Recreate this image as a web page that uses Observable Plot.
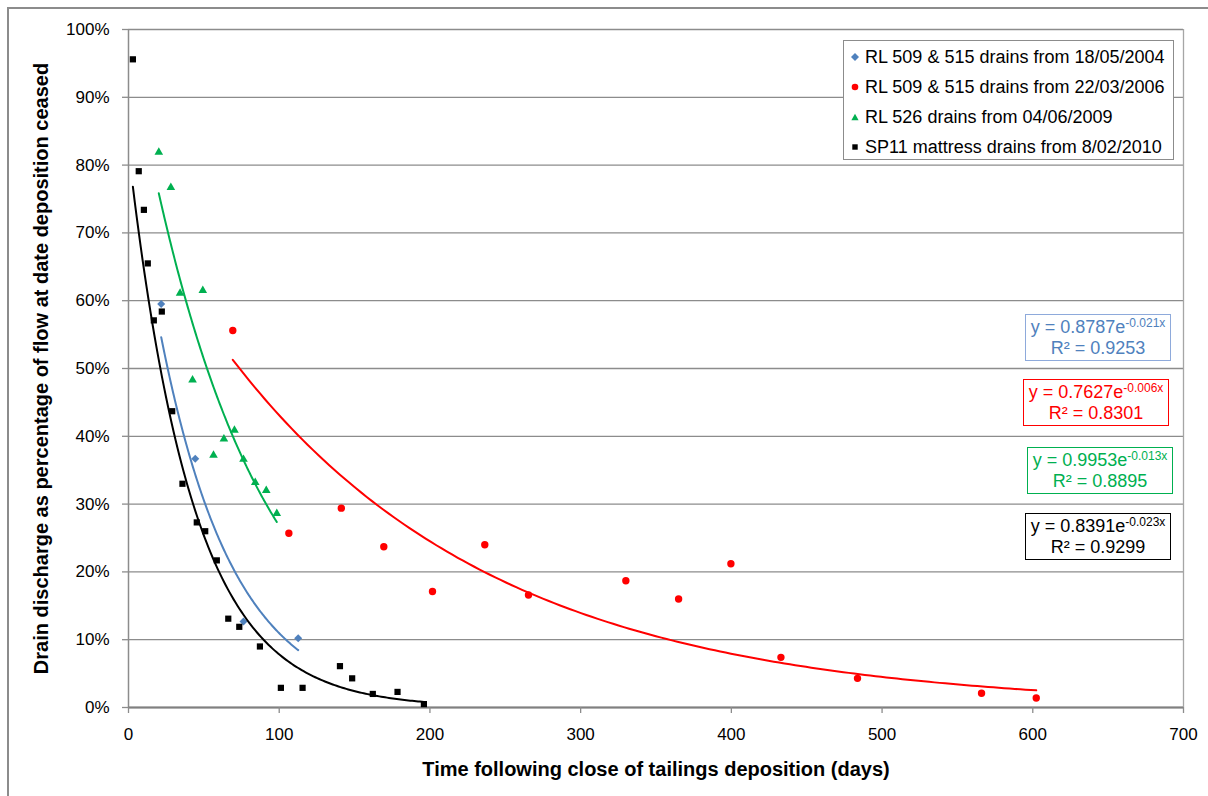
<!DOCTYPE html>
<html>
<head>
<meta charset="utf-8">
<script src="https://cdn.jsdelivr.net/npm/d3@7"></script>
<script src="https://cdn.jsdelivr.net/npm/@observablehq/plot@0.6"></script>
<style>
  html, body { margin: 0; padding: 0; background: #fff; }
  #wrap { position: relative; width: 1208px; height: 796px; overflow: hidden; background: #fff;
          font-family: 'Liberation Sans', Arial, sans-serif; color: #000; }
  #frame { position: absolute; left: 7px; top: 7px; width: 1400px; height: 1000px; border: 2px solid #8c8c8c; box-sizing: border-box; }
  #chart { position: absolute; left: 0; top: 0; }
  #legend { position: absolute; left: 843px; top: 40px; width: 331px; height: 120px; box-sizing: border-box;
            border: 1px solid #8c8c8c; background: #fff; }
  .lrow { position: absolute; left: 0; height: 30px; line-height: 30px; font-size: 18px; white-space: nowrap; }
  .lrow svg { position: absolute; left: 6px; top: 10px; }
  .lrow span { position: absolute; left: 21px; }
  .eq { position: absolute; box-sizing: border-box; background: #fff; text-align: center; font-size: 18px;
        line-height: 21px; padding-top: 2px; white-space: nowrap; }
  .eq sup { font-size: 12px; vertical-align: 6px; line-height: 0; }
</style>
</head>
<body>
<div id="wrap">
  <div id="frame"></div>
  <div id="chart"></div>
  <div id="legend"></div>
</div>
<script>
// ---------- data ----------
const seriesNames = [
  "RL 509 & 515 drains from 18/05/2004",
  "RL 509 & 515 drains from 22/03/2006",
  "RL 526 drains from 04/06/2009",
  "SP11 mattress drains from 8/02/2010"
];
const seriesColors = ["#4F81BD", "#FF0000", "#00B050", "#000000"];
const seriesSymbols = ["diamond2", "circle", "triangle", "square"];

const blueDays = [21.7, 44.3, 76.3, 112.6];
const blueShare = [0.595, 0.367, 0.127, 0.102];

const redDays = [69.2, 106.4, 141.2, 169.4, 201.7, 236.4, 265.4, 330, 365, 399.7, 432.9, 483.7, 566, 602.3];
const redShare = [0.556, 0.257, 0.294, 0.237, 0.171, 0.240, 0.166, 0.187, 0.160, 0.212, 0.074, 0.043, 0.021, 0.014];

const greenDays = [20.1, 28.1, 34.2, 42.5, 49.3, 56.4, 63.3, 70.3, 76.3, 84.1, 91.4, 98.4];
const greenShare = [0.819, 0.767, 0.611, 0.483, 0.615, 0.372, 0.396, 0.409, 0.366, 0.332, 0.320, 0.286];

const blackDays = [2.9, 6.8, 10.2, 12.8, 16.8, 22.1, 29, 35.8, 45.3, 50.9, 58.6, 66.2, 73.5, 87.2, 101.1, 115.5, 140.3, 148.4, 162.1, 178.5, 196];
const blackShare = [0.956, 0.791, 0.734, 0.655, 0.571, 0.584, 0.437, 0.330, 0.273, 0.260, 0.217, 0.131, 0.119, 0.090, 0.029, 0.029, 0.061, 0.043, 0.020, 0.023, 0.005];

// trendline labels as printed on the chart
const eqMain = ["y = 0.8787e", "y = 0.7627e", "y = 0.9953e", "y = 0.8391e"];
const eqExp = ["-0.021x", "-0.006x", "-0.013x", "-0.023x"];
const eqR2 = ["R² = 0.9253", "R² = 0.8301", "R² = 0.8895", "R² = 0.9299"];

const xTicks = [0, 100, 200, 300, 400, 500, 600, 700];
const yTicks = [0, 0.1, 0.2, 0.3, 0.4, 0.5, 0.6, 0.7, 0.8, 0.9, 1.0];
const xTitle = "Time following close of tailings deposition (days)";
const yTitle = "Drain discharge as percentage of flow at date deposition ceased";

// ---------- build tables ----------
const rawSeries = [[blueDays, blueShare], [redDays, redShare], [greenDays, greenShare], [blackDays, blackShare]];
const points = [];
rawSeries.forEach(([xs, ys], s) => xs.forEach((x, i) => points.push({s, x, y: ys[i]})));

// exponential least-squares trendline (fit of ln y on x), as the spreadsheet does
function expFit(xs, ys) {
  const n = xs.length;
  const ls = ys.map(Math.log);
  const mx = d3.mean(xs), ml = d3.mean(ls);
  let sxy = 0, sxx = 0;
  for (let i = 0; i < n; i++) { sxy += (xs[i] - mx) * (ls[i] - ml); sxx += (xs[i] - mx) ** 2; }
  const k = sxy / sxx;
  return {a: Math.exp(ml - k * mx), k};
}
const trend = [];
rawSeries.forEach(([xs, ys], s) => {
  const {a, k} = expFit(xs, ys);
  const [x0, x1] = d3.extent(xs);
  const N = 150;
  for (let i = 0; i <= N; i++) {
    const x = x0 + (x1 - x0) * i / N;
    trend.push({s, x, y: a * Math.exp(k * x)});
  }
});

const gray = "#8c8c8c";
const symbolR = [3.6, 3.7, 3.2, 3.5];

const marks = [
  Plot.gridY(yTicks, {stroke: gray, strokeOpacity: 1, strokeWidth: 1.3}),
  Plot.ruleX([0], {stroke: gray, strokeWidth: 1.5}),
  Plot.ruleX([700], {stroke: "#a6a6a6", strokeWidth: 1.3}),
  Plot.ruleY([0], {stroke: "#808080", strokeWidth: 2}),
  Plot.axisX(xTicks, {tickSize: 6, tickPadding: 14, label: null, fontSize: 17}),
  Plot.axisY(yTicks, {tickSize: 6, tickPadding: 13, tickFormat: d3.format(".0%"), label: null, fontSize: 17}),
];
[0, 1, 2, 3].forEach(s => {
  marks.push(Plot.dot(points.filter(d => d.s === s), {
    x: "x", y: "y", symbol: () => seriesSymbols[s], fill: seriesColors[s], stroke: "none", r: symbolR[s]
  }));
});
[0, 1, 2, 3].forEach(s => {
  marks.push(Plot.line(trend.filter(d => d.s === s), {
    x: "x", y: "y", stroke: seriesColors[s], strokeWidth: 2, curve: "linear"
  }));
});
marks.push(Plot.text([xTitle], {text: d => d, frameAnchor: "bottom", dy: 62, lineAnchor: "middle",
  fontWeight: "bold", fontSize: 20}));
marks.push(Plot.text([yTitle], {text: d => d, frameAnchor: "left", dx: -87, rotate: -90, lineAnchor: "middle",
  textAnchor: "middle", fontWeight: "bold", fontSize: 20}));

const chart = Plot.plot({
  width: 1208, height: 796,
  marginLeft: 128, marginRight: 25, marginTop: 29, marginBottom: 89,
  style: {fontFamily: "'Liberation Sans', Arial, sans-serif", fontSize: "17px", background: "transparent", color: "#000", overflow: "visible"},
  x: {domain: [0, 700]},
  y: {domain: [0, 1]},
  symbol: {type: "identity"},
  marks
});
chart.querySelectorAll('[aria-label="x-axis tick"], [aria-label="y-axis tick"]').forEach(g => {
  g.setAttribute("stroke", gray);
  g.setAttribute("stroke-width", "1.3");
});
document.getElementById("chart").appendChild(chart);

// ---------- legend ----------
const legend = document.getElementById("legend");
const symbolPaths = {
  diamond2: '<path d="M5 1 L9 5 L5 9 L1 5 Z"/>',
  circle: '<circle cx="5" cy="5" r="3.3"/>',
  triangle: '<path d="M5 1.8 L8.6 8.2 L1.4 8.2 Z"/>',
  square: '<rect x="2.3" y="2.3" width="5.4" height="5.4"/>'
};
seriesNames.forEach((name, i) => {
  const row = document.createElement("div");
  row.className = "lrow";
  row.style.top = (1 + 30.1 * i) + "px";
  row.innerHTML = `<svg width="10" height="10" fill="${seriesColors[i]}">${symbolPaths[seriesSymbols[i]]}</svg><span>${name}</span>`;
  legend.appendChild(row);
});

// ---------- trendline equation boxes ----------
const eqBoxes = [
  {left: 1025, top: 314, border: "#8EAADB"},
  {left: 1023, top: 379, border: "#FF0000"},
  {left: 1027, top: 447, border: "#00B050"},
  {left: 1025, top: 513, border: "#000000"}
];
const wrap = document.getElementById("wrap");
eqBoxes.forEach((b, i) => {
  const d = document.createElement("div");
  d.className = "eq";
  d.style.left = b.left + "px";
  d.style.top = b.top + "px";
  d.style.width = "146px";
  d.style.height = "47px";
  d.style.border = "1.5px solid " + b.border;
  d.style.color = seriesColors[i];
  d.innerHTML = `${eqMain[i]}<sup>${eqExp[i]}</sup><br>${eqR2[i]}`;
  wrap.appendChild(d);
});
</script>
</body>
</html>
